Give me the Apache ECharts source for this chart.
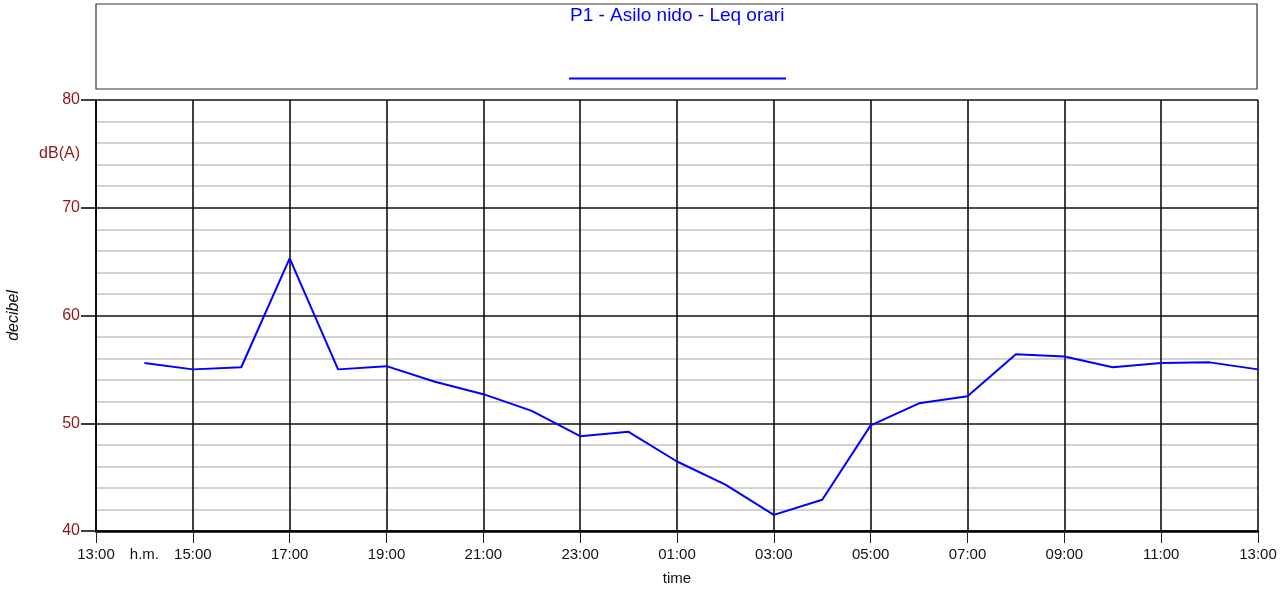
<!DOCTYPE html>
<html><head><meta charset="utf-8">
<script src="https://cdn.jsdelivr.net/npm/echarts@6/dist/echarts.min.js"></script>
<style>html,body{margin:0;padding:0;background:#fff}#c{width:1288px;height:589px}</style>
</head><body><div id="c"></div>
<script>
const seriesName = 'P1 - Asilo nido - Leq orari';
// hours after 13:00 (0 = 13:00, 24 = 13:00 next day)
const hours = [1,2,3,4,5,6,7,8,9,10,11,12,13,14,15,16,17,18,19,20,21,22,23,24];
const leq = [55.6,55.0,55.2,65.3,55.0,55.3,53.85,52.7,51.15,48.8,49.2,46.45,44.3,41.5,42.9,49.8,51.85,52.5,56.4,56.2,55.2,55.6,55.65,55.0];
const xTickLabels = ['13:00','15:00','17:00','19:00','21:00','23:00','01:00','03:00','05:00','07:00','09:00','11:00','13:00'];
const yTickLabels = ['40','50','60','70','80'];
const xUnit = 'h.m.';
const yUnit = 'dB(A)';

const red = '#8e1616';
const font = 'Liberation Sans, Arial, sans-serif';
const chart = echarts.init(document.getElementById('c'));
chart.setOption({
  animation: false,
  title: { text: seriesName, left: 565, top: 1,
    textStyle: { color: '#0000ff', fontSize: 19, fontWeight: 'normal', fontFamily: font } },
  grid: { left: 96, right: 30, top: 100, bottom: 58, containLabel: false, outerBoundsMode: 'none' },
  graphic: [
    { type: 'rect', shape: { x: 96, y: 4, width: 1161, height: 85 }, style: { fill: 'none', stroke: '#333', lineWidth: 1.2 } },
    { type: 'line', shape: { x1: 569, y1: 78.5, x2: 786, y2: 78.5 }, style: { stroke: '#0000ff', lineWidth: 2 } }
  ],
  xAxis: [{
    type: 'value', min: 0, max: 24, interval: 2,
    name: 'time', nameLocation: 'middle', nameGap: 40,
    nameTextStyle: { color: '#111', fontSize: 15, fontFamily: font },
    axisLine: { show: true, lineStyle: { color: '#000', width: 2.5 } },
    axisTick: { show: true, length: 12, lineStyle: { color: '#222', width: 1 } },
    axisLabel: { color: '#111', fontSize: 15, fontFamily: font, margin: 16,
      formatter: v => xTickLabels[Math.round(v / 2)] },
    splitLine: { show: true, lineStyle: { color: '#111', width: 1.6 } }
  }, {
    type: 'value', min: 0, max: 24, interval: 1, position: 'bottom',
    axisLine: { show: false }, axisTick: { show: false }, splitLine: { show: false },
    axisLabel: { color: '#111', fontSize: 15, fontFamily: font, margin: 16,
      formatter: v => (v === 1 ? xUnit : '') }
  }],
  yAxis: [{
    type: 'value', min: 40, max: 80, interval: 10,
    name: 'decibel', nameLocation: 'middle', nameGap: 74, nameRotate: 90,
    nameTextStyle: { color: '#111', fontSize: 16, fontStyle: 'italic', fontFamily: font },
    axisLine: { show: true, lineStyle: { color: '#000', width: 1.6 } },
    axisTick: { show: true, length: 15, lineStyle: { color: '#000', width: 1.5 } },
    axisLabel: { color: red, fontSize: 16, fontFamily: font, margin: 16,
      formatter: v => yTickLabels[Math.round((v - 40) / 10)] },
    splitLine: { show: true, lineStyle: { color: '#111', width: 1.6 } },
    minorTick: { show: false, splitNumber: 5 },
    minorSplitLine: { show: true, lineStyle: { color: '#c4c4c4', width: 1.5 } }
  }, {
    type: 'value', min: 40, max: 80, interval: 35, position: 'left',
    axisLine: { show: false }, axisTick: { show: false }, splitLine: { show: false },
    axisLabel: { color: red, fontSize: 16, fontFamily: font, margin: 16,
      formatter: v => (v === 75 ? yUnit : '') }
  }],
  series: [{
    name: seriesName, type: 'line', symbol: 'none',
    data: hours.map((h, i) => [h, leq[i]]),
    lineStyle: { color: '#0000ff', width: 2 }, z: 5
  }]
});
</script></body></html>
